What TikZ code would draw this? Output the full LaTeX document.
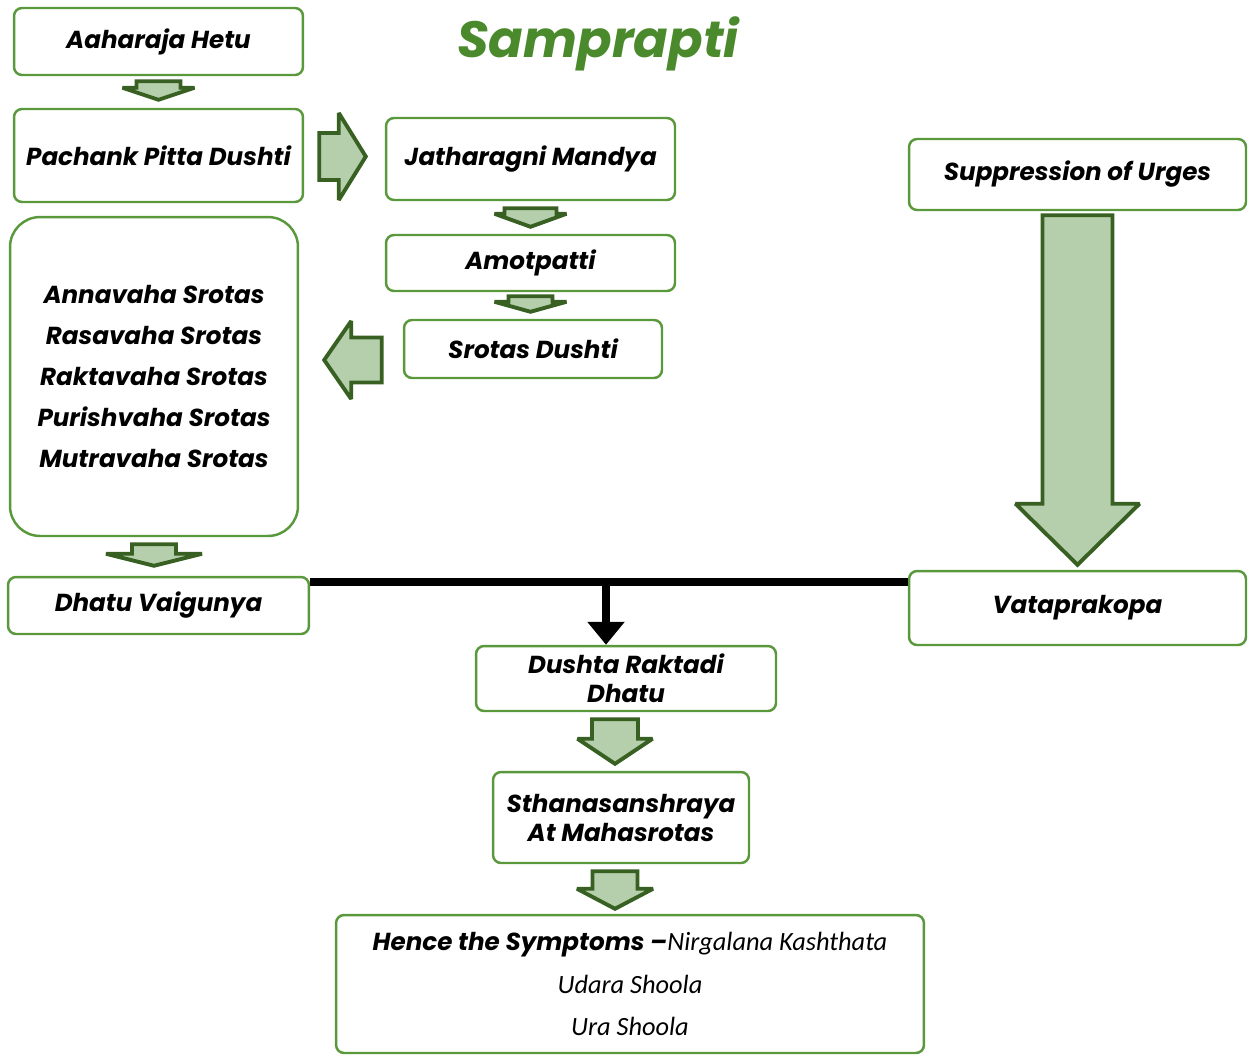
\documentclass[tikz,border=0pt]{standalone}
\usepackage{fontspec}
\setmainfont{Poppins}
\newfontfamily\calibri{Carlito}
\usetikzlibrary{arrows.meta,calc}
\definecolor{boxgreen}{RGB}{90,152,60}
\definecolor{titlegreen}{RGB}{74,138,44}
\definecolor{arrowfill}{RGB}{181,206,171}
\definecolor{arrowline}{RGB}{56,96,34}

% block arrows: start, end, half shaft, half head, head length
\newcommand{\fatdown}[5]{\draw[fat arrow] let \p1=#1, \p2=#2 in
  (\x1-#3,\y1) -- (\x1+#3,\y1) -- (\x1+#3,\y2+#5) -- (\x1+#4,\y2+#5) -- (\x1,\y2)
  -- (\x1-#4,\y2+#5) -- (\x1-#3,\y2+#5) -- cycle;}
\newcommand{\fatside}[5]{\draw[fat arrow] let \p1=#1, \p2=#2 in
  (\x1,\y1-#3) -- ({\x2-(#5)},\y1-#3) -- ({\x2-(#5)},\y1-#4) -- (\x2,\y1)
  -- ({\x2-(#5)},\y1+#4) -- ({\x2-(#5)},\y1+#3) -- (\x1,\y1+#3) -- cycle;}

\begin{document}
\begin{tikzpicture}[x=0.02cm,y=-0.02cm,
 box/.style={draw=boxgreen,line width=1.4pt,rounded corners=0.16cm,fill=white,align=center,inner sep=0pt,
  font=\bfseries\itshape\fontsize{14}{16.5}\selectfont},
 fat arrow/.style={draw=arrowline,fill=arrowfill,line width=2.2pt,line join=miter,miter limit=2.5},
 bus/.style={line width=4.5pt,black}]
 \useasboundingbox (0,0) rectangle (1250,1056);
 \node (title) at (598,44) [text=titlegreen,font=\bfseries\itshape\fontsize{29}{35}\selectfont] {Samprapti};
 \node (box 1) at (158.5,41.5) [box,minimum width=5.78cm,minimum height=1.34cm] {Aaharaja Hetu};
 \node (box 2) at (158.5,155.5) [box,minimum width=5.78cm,minimum height=1.86cm] {Pachank Pitta Dushti};
 \node (box 3) at (530.5,159) [box,minimum width=5.78cm,minimum height=1.64cm] {Jatharagni Mandya};
 \node (box 4) at (530.5,263) [box,minimum width=5.78cm,minimum height=1.12cm] {Amotpatti};
 \node (box 5) at (533,349) [box,minimum width=5.16cm,minimum height=1.16cm] {Srotas Dushti};
 \node (box 6) at (154,376.5) [box,rounded corners=0.6cm,minimum width=5.76cm,minimum height=6.38cm,
  font=\bfseries\itshape\fontsize{14}{23.3}\selectfont]
  {Annavaha Srotas\\Rasavaha Srotas\\Raktavaha Srotas\\Purishvaha Srotas\\Mutravaha Srotas};
 \node (box 7) at (158.5,605.5) [box,minimum width=6.02cm,minimum height=1.14cm] {Dhatu Vaigunya};
 \node (box 8) at (1077.5,174.5) [box,minimum width=6.74cm,minimum height=1.42cm] {Suppression of Urges};
 \node (box 9) at (1077.5,608) [box,minimum width=6.74cm,minimum height=1.48cm] {Vataprakopa};
 \node (box 10) at (626,678.5) [box,minimum width=6cm,minimum height=1.3cm] {Dushta Raktadi\\Dhatu};
 \node (box 11) at (621,817.5) [box,minimum width=5.12cm,minimum height=1.82cm] {Sthanasanshraya\\At Mahasrotas};
 \node (box 12) at (630,984) [box,minimum width=11.76cm,minimum height=2.76cm,
  font=\calibri\itshape\fontsize{15}{24}\selectfont]
  {{\rmfamily\bfseries\fontsize{14}{24}\selectfont Hence the Symptoms --}Nirgalana Kashthata\\Udara Shoola\\Ura Shoola};
 % block arrows
 \fatdown{([yshift=-0.1cm]box 1.south)}{([yshift=0.16cm]box 2.north)}{0.44cm}{0.72cm}{0.24cm}
 \fatside{([xshift=0.3cm,yshift=-0.02cm]box 2.east)}{([xshift=-0.38cm]box 3.west)}{0.47cm}{0.87cm}{0.54cm}
 \fatdown{([yshift=-0.14cm]box 3.south)}{([yshift=0.14cm]box 4.north)}{0.52cm}{0.72cm}{0.26cm}
 \fatdown{([yshift=-0.08cm]box 4.south)}{([yshift=0.14cm]box 5.north)}{0.44cm}{0.72cm}{0.2cm}
 \fatside{([xshift=-0.42cm,yshift=-0.22cm]box 5.west)}{([xshift=0.5cm]box 6.east)}{0.45cm}{0.78cm}{-0.54cm}
 \fatdown{([yshift=-0.14cm]box 6.south)}{([yshift=0.2cm]box 7.north)}{0.44cm}{0.96cm}{0.24cm}
 \fatdown{([yshift=-0.08cm]box 8.south)}{([yshift=0.1cm]box 9.north)}{0.7cm}{1.24cm}{1.22cm}
 \fatdown{([xshift=-0.22cm,yshift=-0.14cm]box 10.south)}{([yshift=0.14cm]box 11.north)}{0.46cm}{0.75cm}{0.5cm}
 \fatdown{([xshift=-0.12cm,yshift=-0.14cm]box 11.south)}{([yshift=0.1cm]box 12.north)}{0.45cm}{0.76cm}{0.4cm}
 % joining line
 \coordinate (bus l) at ([yshift=-0.12cm]box 7.north east);
 \coordinate (bus r) at (bus l -| box 9.west);
 \coordinate (bus t) at ([xshift=-0.4cm]bus l -| box 10.north);
 \draw[bus] (bus l) -- (bus r);
 \draw[bus,-{Triangle[length=0.46cm,width=0.72cm]}] (bus t) -- (bus t |- box 10.north);
\end{tikzpicture}
\end{document}
